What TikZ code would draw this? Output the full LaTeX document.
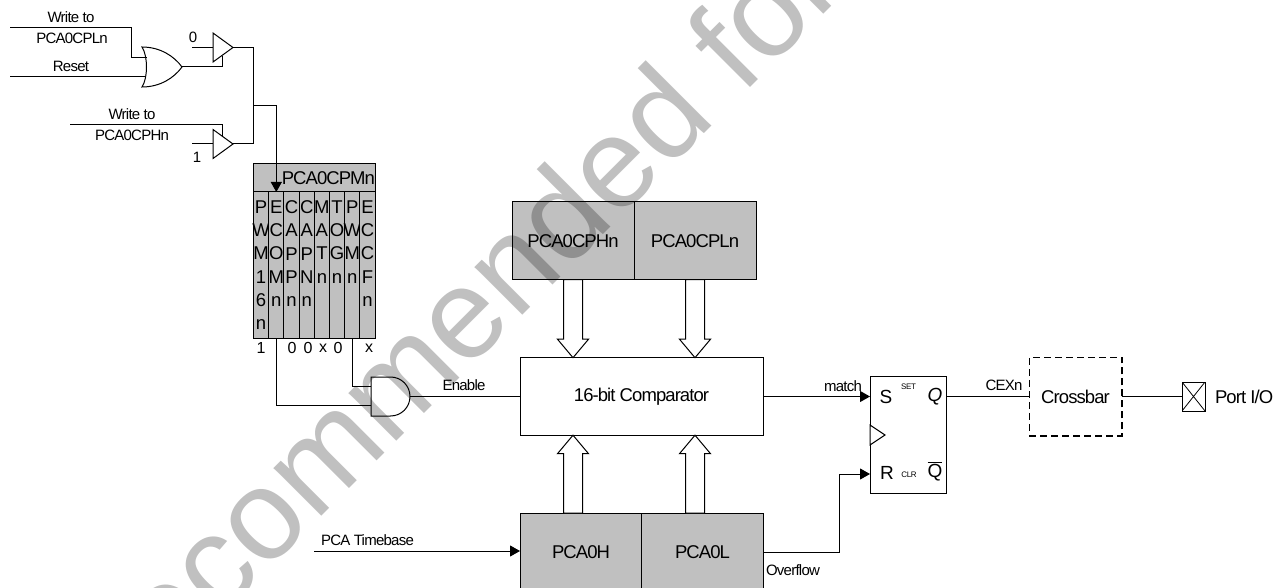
\documentclass[tikz,border=0pt]{standalone}
\usepackage{fontspec}
\setmainfont[LetterSpace=-5]{Liberation Sans}
\newfontfamily\markfont{Liberation Sans}
\usetikzlibrary{arrows.meta, shapes.geometric, shapes.arrows}
\newcommand{\fsize}[1]{\fontsize{#1}{#1}\selectfont}
\definecolor{boxgray}{HTML}{C0C0C0}

\begin{document}
\begin{tikzpicture}[x=1pt, y=-1pt, line width=1pt, inner sep=0pt, outer sep=0pt,
		>={Triangle[length=10pt, width=11pt]},
		small/.style={font=\fsize{15}},
		mid/.style={font=\fsize{16}},
		big/.style={font=\fsize{18.5}},
		graybox/.style={draw, fill=boxgray, minimum width=122pt, minimum height=78pt, big},
		regcol/.style={draw, fill=boxgray, minimum width=15.2pt, minimum height=146pt, anchor=north},
		coltext/.style={anchor=north, align=center, font=\fontsize{18.5}{23.3}\selectfont},
		buffer/.style={draw, isosceles triangle, isosceles triangle stretches, minimum width=29pt, minimum height=20pt, anchor=lower side},
		gatebox/.style={minimum width=40pt, minimum height=40pt},
		hollow/.style={draw, fill=white, single arrow, single arrow head extend=6pt, single arrow head indent=0pt, single arrow tip angle=80, minimum height=78pt, inner sep=9pt, anchor=tip},
	]
		\clip (0,0) rectangle (1283,588);
		\node[small] (write_l) at (71,17) {Write to};
		\node[small] (cpl_name) at (72,38) {PCA0CPLn};
		\node[small] (reset) at (71,66) {Reset};
		\node[small] (write_h) at (132,114) {Write to};
		\node[small] (cph_name) at (132,135) {PCA0CPHn};
		\node[small] (zero) at (193,37) {0};
		\node[small] (one) at (197,157) {1};
		\coordinate (write_l_in) at (10,28);
		\coordinate (reset_in) at (10,77);
		\coordinate (write_h_in) at (70,125);
		\coordinate (zero_in) at (192,47.5);
		\coordinate (one_in) at (192,144);
		\coordinate (en0) at (222,56);
		\coordinate (en1) at (222,137);
		\coordinate (bus) at (253,106);
		\coordinate (or0_in1) at (146.5,58);
		\coordinate (or0_in2) at (146,77);
		\node[gatebox] (or0) at (162,67) {};
		\draw (or0.north west) .. controls (160,47) and (174,56) .. (or0.east) .. controls (174,78) and (160,87) .. (or0.south west) .. controls (148,78) and (148,56) .. cycle;
		\node[buffer] (buf0) at (213,47.5) {};
		\node[buffer] (buf1) at (213,144) {};
		\draw (write_l_in) -| (131,58) -- (or0_in1);
		\draw (reset_in) -- (or0_in2);
		\draw (or0.east) -| (en0);
		\draw (zero_in) -- (buf0.lower side);
		\draw (one_in) -- (buf1.lower side);
		\draw (write_h_in) -| (en1);
		\draw (buf0.apex) -| (bus);
		\draw (buf1.apex) -| (bus);
		\node[draw, fill=boxgray, minimum width=121.6pt, minimum height=28pt, anchor=north west] (cpm) at (253.5,164) {};
		\node[big, anchor=east] (cpm_name) at (375,178) {PCA0CPMn};
		\foreach \i/\txt in {1/{P\\W\\M\\1\\6\\n}, 2/{E\\C\\O\\M\\n}, 3/{C\\A\\P\\P\\n}, 4/{C\\A\\P\\N\\n}, 5/{M\\A\\T\\n}, 6/{T\\O\\G\\n}, 7/{P\\W\\M\\n}, 8/{E\\C\\C\\F\\n}} {
			\node[regcol] (col\i) at ({253.5+15.2*(\i-0.5)},192) {};
			\node[coltext] (coltxt\i) at ({253.5+15.2*(\i-0.5)},200.5) {\txt};
		}
		\draw[->] (bus) -| (col2.north);
		\node[mid] (v1) at (261,348) {1};
		\node[mid] (v3) at (292,348) {0};
		\node[mid] (v4) at (308,348) {0};
		\node[mid] (v5) at (323,348) {x};
		\node[mid] (v6) at (338,348) {0};
		\node[mid] (v8) at (369,348) {x};
		\coordinate (and0_in1) at (371,386);
		\coordinate (and0_in2) at (371,405.7);
		\node[gatebox, minimum width=39pt, minimum height=39pt] (and0) at (390.5,396.5) {};
		\draw (and0.north west) -- (and0.north) arc[start angle=90, end angle=-90, radius=19.5pt] -- (and0.south west) -- cycle;
		\draw (col7.south) |- (and0_in1);
		\draw (col2.south) |- (and0_in2);
		\node[graybox] (cph) at (573,241) {PCA0CPHn};
		\node[graybox] (cpl) at (695,241) {PCA0CPLn};
		\node[draw, minimum width=243pt, minimum height=77.5pt, big] (cmp) at (641.5,396.5) {16-bit Comparator};
		\node[graybox] (pca_h) at (581,552) {PCA0H};
		\node[graybox] (pca_l) at (702.5,552) {PCA0L};
		\node[hollow, shape border rotate=270] (arr1) at (573,357.7) {};
		\node[hollow, shape border rotate=270] (arr2) at (695,357.7) {};
		\node[hollow, shape border rotate=90] (arr3) at (573,435.2) {};
		\node[hollow, shape border rotate=90] (arr4) at (695,435.2) {};
		\draw (and0.east) -- (cmp.west);
		\node[small] (enable) at (464,385) {Enable};
		\coordinate (base_in) at (314,551);
		\node[small] (timebase) at (367.5,540) {PCA Timebase};
		\draw[->] (base_in) -- (base_in -| pca_h.west);
		\node[small] (overflow) at (793,570) {Overflow};
		\node[draw, minimum width=76pt, minimum height=116.5pt, anchor=north west] (ff) at (870,376.7) {};
		\node[font=\fsize{19}] (ff_s) at (886,396.5) {S};
		\node[font=\fsize{8}] (ff_set) at (908.5,387) {SET};
		\node[font=\fsize{19}\itshape] (ff_q) at (935,396.5) {Q};
		\node[font=\fsize{19}] (ff_r) at (887,473) {R};
		\node[font=\fsize{8}] (ff_clr) at (909,475) {CLR};
		\node[font=\fsize{19}] (ff_qn) at (935,471.5) {$\overline{\mbox{Q}}$};
		\node[draw, fill=white, isosceles triangle, isosceles triangle stretches, minimum width=20pt, minimum height=15pt, anchor=lower side] (clk) at (870,435) {};
		\coordinate (match_in) at (870,396.5);
		\coordinate (clr_in) at (870,474);
		\draw[->] (cmp.east) -- (match_in);
		\node[small] (match) at (843,386) {match};
		\draw[->] (pca_l.east) -| (839,474) -- (clr_in);
		\node[draw, dashed, dash pattern=on 7pt off 4pt, line width=1.5pt, minimum width=92.5pt, minimum height=78.5pt, big] (xbar) at (1075.5,396.5) {Crossbar};
		\draw (match_in -| ff.east) -- (match_in -| xbar.west);
		\node[small] (cexn) at (1004,385) {CEXn};
		\node[draw, minimum width=23pt, minimum height=29pt, path picture={\draw[line width=0.8pt] (path picture bounding box.north west) -- (path picture bounding box.south east) (path picture bounding box.south west) -- (path picture bounding box.north east);}] (port) at (1193.5,396.5) {};
		\draw (xbar.east) -- (port.west);
		\node[big, anchor=west] (port_name) at (1215,396.5) {Port I/O};
		\begin{scope}[blend mode=multiply]
			\node[font=\markfont\fontsize{128}{128}\selectfont, text=boxgray, rotate=45, anchor=base west] (mark) at (139,699) {recommended for};
		\end{scope}
	\end{tikzpicture}
\end{document}
